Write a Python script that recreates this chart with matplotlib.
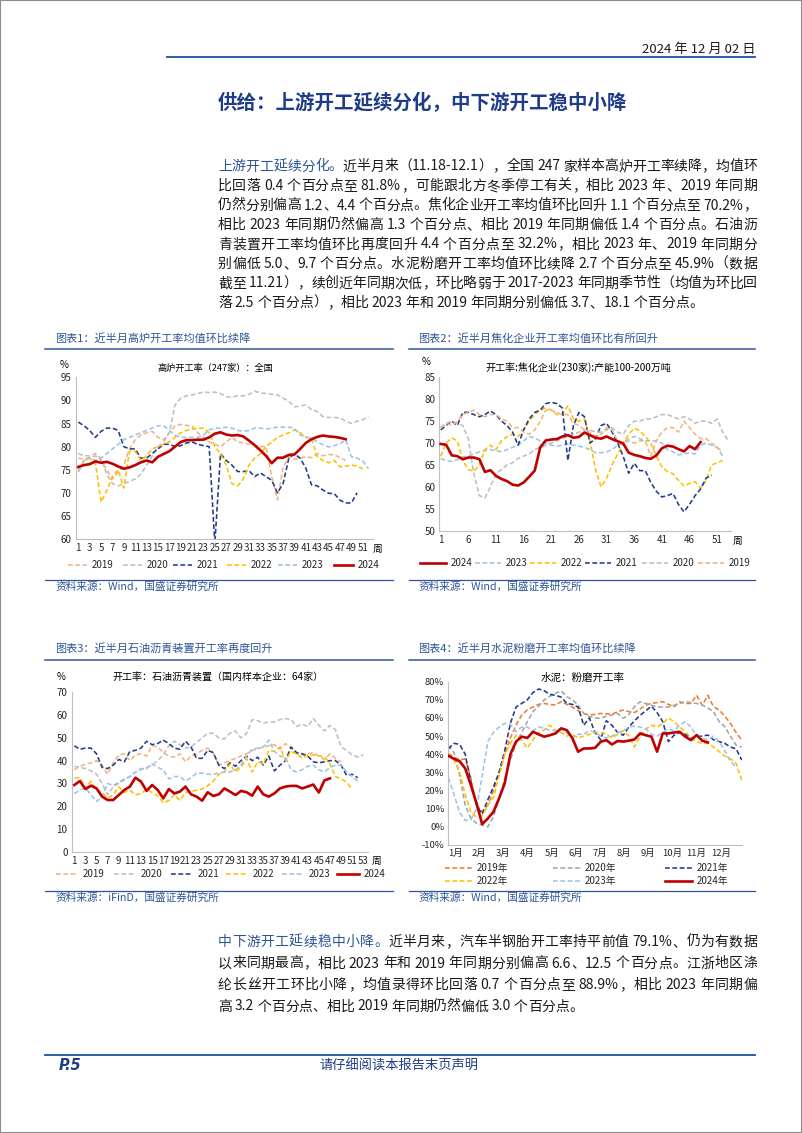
import re
import numpy as np
import matplotlib
matplotlib.use("Agg")
import matplotlib.pyplot as plt
from matplotlib.lines import Line2D
from matplotlib.patches import Rectangle

plt.rcParams['font.family'] = ['Noto Sans CJK SC', 'DejaVu Sans']
plt.rcParams['axes.unicode_minus'] = False

# ====================== 数据 ======================
# 图表1 高炉开工率（周）
bf_2019 = [77.5, 77.3, 77.6, 78.0, 77.0, 75.0, 73.0, 74.5, 76.0, 79.5, 81.5, 82.5, 83.0, 83.3, 82.0, 81.5,
           83.0, 84.5, 84.8, 84.6, 84.5, 83.0, 82.0, 81.0, 80.5, 80.0, 81.0, 82.0, 81.0, 80.8, 80.5, 80.3,
           80.0, 80.0, 73.5, 68.5, 75.5, 77.8, 77.3, 77.5, 77.8, 77.6, 78.4, 78.0, 78.3, 78.2, 77.6, 77.0]
bf_2020 = [78.5, 78.0, 78.0, 78.5, 77.5, 74.0, 72.0, 71.5, 72.0, 72.5, 73.0, 74.0, 76.0, 78.0, 80.0, 81.0,
           83.0, 89.0, 90.5, 91.0, 91.2, 91.5, 91.8, 91.7, 91.8, 91.5, 90.8, 90.7, 91.0, 91.0, 91.3, 92.0,
           91.6, 91.5, 91.3, 91.2, 90.5, 89.8, 88.6, 88.8, 89.0, 88.0, 87.6, 86.5, 86.3, 86.3, 86.2, 85.5,
           85.0, 85.5, 85.8, 86.5]
bf_2021 = [85.3, 84.5, 83.5, 82.0, 83.3, 84.0, 84.0, 83.5, 80.0, 79.5, 79.5, 77.5, 77.5, 78.5, 79.5, 80.5,
           80.5, 80.0, 80.2, 80.8, 81.0, 80.5, 80.2, 80.0, 59.0, 78.5, 77.0, 76.0, 74.6, 74.6, 74.8, 73.5,
           74.3, 73.5, 72.7, 70.0, 72.0, 77.5, 78.4, 77.5, 75.3, 71.7, 71.5, 70.6, 69.9, 69.8, 68.4, 67.8,
           67.8, 70.0]
bf_2022 = [75.0, 77.0, 77.5, 76.5, 68.0, 70.5, 73.5, 75.0, 71.0, 79.0, 79.0, 77.0, 78.0, 79.5, 80.0, 80.5,
           81.0, 82.0, 83.0, 83.5, 83.8, 84.0, 84.0, 83.0, 80.0, 78.5, 76.0, 72.0, 71.5, 73.0, 76.0, 77.5,
           78.5, 80.0, 81.0, 82.0, 82.5, 83.0, 83.6, 83.0, 82.0, 81.8, 77.8, 77.0, 76.5, 77.0, 75.6, 75.8,
           76.0, 75.8, 75.2]
bf_2023 = [74.5, 77.0, 77.5, 77.0, 77.5, 78.5, 79.5, 80.5, 81.5, 82.0, 82.5, 83.0, 83.5, 84.0, 84.5, 84.5,
           83.5, 82.5, 82.0, 82.0, 82.0, 82.0, 82.5, 83.6, 84.0, 84.0, 84.2, 84.0, 83.5, 83.3, 83.5, 84.0,
           84.0, 83.8, 84.0, 84.2, 84.2, 84.2, 84.0, 82.5, 82.1, 81.8, 81.0, 80.4, 79.9, 80.2, 80.6, 81.5,
           77.8, 77.5, 76.9, 75.2]
bf_2024 = [75.6, 76.0, 76.2, 76.8, 76.5, 76.7, 76.3, 75.7, 75.2, 75.5, 76.0, 76.6, 77.0, 76.6, 77.8, 78.4,
           79.0, 80.0, 81.0, 81.4, 81.4, 81.5, 81.5, 82.0, 82.8, 83.1, 82.6, 82.4, 82.5, 82.2, 81.3, 80.3,
           79.2, 78.0, 76.4, 77.6, 77.6, 78.2, 78.3, 79.5, 80.8, 81.6, 82.1, 82.4, 82.2, 82.1, 81.9, 81.6]

# 图表2 焦化企业开工率（周）
ck_2024 = [69.8, 69.6, 67.2, 67.0, 66.3, 66.7, 66.7, 66.3, 63.4, 63.8, 62.5, 61.8, 61.3, 60.5, 60.3, 61.0,
           62.3, 63.7, 69.0, 70.6, 70.8, 70.9, 71.5, 71.8, 71.2, 71.4, 72.4, 71.8, 71.2, 71.0, 71.5, 70.9,
           70.4, 69.9, 67.8, 67.3, 67.0, 66.6, 66.4, 67.2, 68.8, 69.4, 69.2, 68.6, 68.1, 69.3, 68.6, 70.2]
ck_2023 = [66.5, 66.0, 65.8, 66.2, 66.8, 67.0, 67.5, 68.0, 68.3, 68.5, 68.3, 68.0, 68.5, 69.0, 69.5, 70.5,
           71.5, 71.2, 70.5, 70.0, 69.5, 69.3, 69.5, 69.8, 69.5, 69.3, 69.0, 68.5, 67.8, 67.8, 68.0, 68.5,
           69.5, 70.0, 71.0, 71.5, 71.0, 70.5, 70.5, 70.5, 70.0, 68.5, 68.0, 67.3, 67.5, 67.8, 67.5, 69.5,
           70.0, 69.5, 69.0, 67.0]
ck_2022 = [67.0, 70.0, 71.2, 70.5, 66.0, 64.0, 63.5, 65.0, 68.5, 69.5, 68.5, 70.5, 71.5, 72.0, 71.5, 73.0,
           75.0, 76.5, 77.5, 78.0, 77.5, 76.5, 76.5, 78.5, 75.5, 75.0, 75.5, 70.5, 64.0, 60.0, 62.0, 65.0,
           67.5, 70.0, 72.0, 73.4, 72.8, 71.5, 69.9, 67.0, 64.6, 63.5, 63.0, 61.5, 60.2, 60.8, 61.2, 59.7,
           61.5, 65.0, 65.5, 66.0]
ck_2021 = [73.0, 74.0, 75.0, 74.0, 77.0, 77.0, 76.5, 76.0, 76.5, 77.3, 76.5, 75.0, 74.0, 72.5, 69.5, 73.0,
           75.5, 77.0, 77.5, 79.0, 79.3, 79.0, 78.0, 66.0, 74.0, 77.0, 76.0, 70.0, 71.0, 74.0, 74.5, 72.5,
           70.0, 67.0, 63.1, 65.4, 63.7, 63.7, 61.0, 59.0, 57.7, 58.0, 58.5, 56.0, 54.3, 56.0, 58.0, 59.5,
           62.0, 62.7]
ck_2020 = [73.5, 74.5, 75.0, 74.5, 74.0, 71.0, 63.0, 58.0, 57.5, 60.0, 63.0, 64.0, 65.0, 65.5, 66.5, 67.0,
           67.5, 68.5, 69.0, 69.5, 70.0, 70.5, 71.0, 71.5, 72.0, 72.5, 73.0, 73.0, 72.5, 72.5, 73.0, 73.5,
           72.5, 72.0, 74.0, 75.0, 75.0, 75.5, 75.5, 76.0, 76.5, 76.5, 76.0, 75.5, 76.0, 75.5, 74.5, 75.0,
           75.0, 74.5, 75.5, 72.5, 70.5]
ck_2019 = [73.5, 74.5, 74.0, 75.0, 76.5, 77.0, 77.5, 76.5, 76.0, 76.5, 76.5, 75.5, 75.0, 73.5, 73.5, 72.5,
           72.0, 73.0, 75.0, 77.5, 77.5, 77.0, 76.5, 76.5, 74.5, 74.0, 73.0, 72.5, 71.5, 72.0, 73.5, 73.0,
           70.5, 70.0, 70.5, 70.0, 70.5, 70.5, 67.0, 70.5, 72.5, 73.5, 73.5, 72.5, 75.0, 73.5, 72.0, 71.0,
           71.0, 70.0, 69.0, 68.0]

# 图表3 石油沥青装置开工率（周）
as_2019 = [36, 37.5, 38.5, 39, 40, 38, 34, 39, 42.5, 43, 40, 42.5, 43, 42, 46.5, 46, 43.5, 42, 41.5, 43,
           39.5, 42, 43, 44.5, 45.5, 43.5, 38, 39, 40, 41, 42, 43, 44.5, 45, 46, 46.5, 47, 45, 47.5, 45.5,
           43, 42.5, 43, 43.5, 42, 40.5, 43, 41, 39.5]
as_2020 = [37.5, 37, 36.5, 35.5, 34, 30, 25, 28.5, 30, 31.5, 33, 35, 36, 37, 38, 40, 42.5, 46.5, 48.5, 47,
           45.5, 46, 48, 50, 52, 52, 50, 49.5, 52, 53, 50, 52, 58, 57.5, 56.5, 57, 57, 58, 58.5, 58, 55, 56,
           55, 58.5, 55.5, 53, 55.5, 53.5, 46, 44.5, 42.5, 41.5, 42.5]
as_2021 = [46.5, 45, 45.5, 45.5, 43, 37, 36.5, 38, 40.5, 39.5, 44, 44.5, 45.5, 48.5, 47, 47.5, 49, 47.5,
           45.5, 45, 48.5, 46, 41, 41, 44.5, 43.5, 38, 36.5, 39, 37.5, 40, 42, 40, 41.5, 38, 42, 35.5, 38,
           40, 46, 43.5, 43, 42, 39.5, 39, 39.5, 40, 40, 38, 33.5, 34, 32.5]
as_2022 = [32.5, 32.5, 28, 31, 27, 26, 23.5, 25, 28.5, 26, 27, 25, 25.5, 27.5, 26, 24.5, 21.5, 22.5, 25,
           22.5, 26, 26.5, 27, 27.5, 29, 31, 34, 35, 38.5, 35, 37, 41, 35, 39.5, 38.5, 44.5, 44, 46, 40, 44,
           43, 41, 42.5, 42.5, 42, 42, 38.5, 33, 32, 30.5, 27.5]
as_2023 = [25.5, 27, 28, 25, 22, 24, 30, 29, 30.5, 32, 33, 35, 36.5, 36.5, 38.5, 37, 36, 32, 33, 33, 31,
           32.5, 34.5, 34.5, 34, 34, 34.5, 35, 35, 36, 38, 42, 45, 45.5, 46, 49, 44, 42, 41.5, 36, 35, 36,
           37.5, 38, 36, 35, 37, 38, 38, 35, 33, 31]
as_2024 = [29.3, 31.0, 27.5, 29.0, 27.8, 24.2, 22.7, 22.7, 24.9, 27.1, 28.6, 32.5, 30.8, 26.7, 29.3, 27.1,
           23.4, 27.5, 25.6, 26.4, 28.6, 25.2, 24.2, 22.4, 26.1, 24.5, 25.2, 27.8, 26.4, 24.9, 26.7, 26.1,
           24.6, 28.6, 25.2, 24.2, 25.6, 27.8, 28.6, 28.9, 28.9, 27.8, 28.6, 29.5, 26.0, 31.3, 32.2]

# 图表4 水泥粉磨开工率（周，%）
cm_2019 = [40.5, 38.5, 36.8, 37.5, 27, 12, 8.3, 12, 20, 30, 40, 49, 56, 61.6, 64.5, 66, 67.5, 68, 67.5,
           67.1, 69, 67.5, 66, 64, 62.5, 61.6, 62, 62.5, 62.3, 62, 63.5, 64.4, 63.5, 63, 65, 67.1, 68, 68.5,
           69, 67.5, 66.2, 69, 68, 68, 72.5, 67, 72.5, 66.2, 64.4, 61, 57, 52, 47.8]
cm_2020 = [45, 41, 28.5, 12, 4.6, 2, 1, 0, 5.5, 15.7, 26.7, 36.8, 46, 52, 58, 63.5, 66.5, 70, 72, 73.6,
           74.9, 71.7, 70, 67.1, 62.5, 60.7, 60, 59.8, 61, 61.6, 62.5, 59.8, 62, 66.2, 69, 68, 67, 66.2, 66,
           66, 67, 68, 69, 68.5, 68, 67.1, 65.5, 63.5, 58, 55.2, 50, 45, 44]
cm_2021 = [43, 46, 45.5, 40, 25, 12, 7, 15, 22, 30, 42, 57, 66, 68, 70, 74, 76, 75, 73, 72.5, 71.5, 68,
           67.5, 66, 56, 60, 52, 48, 58.5, 56, 52, 50.5, 55, 58.5, 61.5, 64, 66.5, 63, 58, 47, 50.5, 52,
           51, 48.8, 49.7, 50, 50.6, 48, 47, 46, 44, 43, 36.8]
cm_2022 = [40.5, 37, 30, 18, 8, 5.5, 6, 12, 16, 28, 40, 46, 50.5, 47.8, 43.5, 48, 52, 53.5, 56, 53, 52,
           50, 51, 49, 50, 51, 52, 52, 51, 49, 51, 53, 50, 44, 50, 54, 56, 55, 57, 60, 58, 55, 52.5, 49,
           47, 46, 46, 44, 41.5, 39, 37.5, 35, 25.8]
cm_2023 = [27, 18, 8, 3.5, 4, 10, 28, 47, 52, 55, 57, 56.5, 52.5, 55, 55, 53, 55, 54.5, 53, 53, 54, 52,
           49, 51, 51, 53, 52, 50, 49, 50, 52, 53, 55, 55.5, 55, 54, 51, 50, 52, 54, 53, 56, 58, 55, 50.5,
           49, 48, 50, 47, 42, 36, 33]
cm_2024 = [39.2, 37.5, 36.2, 32.2, 23, 12.9, 1.5, 4.6, 8.3, 15.7, 24, 40, 47, 49.7, 49, 52.4, 51, 49.7,
           50.5, 51.5, 54.3, 53.3, 48.8, 41.4, 43.2, 43.2, 43.5, 46.9, 47.8, 45.4, 47.3, 47, 47.5, 48.2,
           51.5, 50.5, 49.7, 41.4, 51.5, 51.5, 52, 52.4, 49.7, 47.8, 50.6, 47.5, 46.5]

months = ["1月", "2月", "3月", "4月", "5月", "6月", "7月", "8月", "9月", "10月", "11月", "12月"]

para1 = [
    "上游开工延续分化。近半月来（11.18-12.1），全国 247 家样本高炉开工率续降，均值环",
    "比回落 0.4 个百分点至 81.8%，可能跟北方冬季停工有关，相比 2023 年、2019 年同期",
    "仍然分别偏高 1.2、4.4 个百分点。焦化企业开工率均值环比回升 1.1 个百分点至 70.2%，",
    "相比 2023 年同期仍然偏高 1.3 个百分点、相比 2019 年同期偏低 1.4 个百分点。石油沥",
    "青装置开工率均值环比再度回升 4.4 个百分点至 32.2%，相比 2023 年、2019 年同期分",
    "别偏低 5.0、9.7 个百分点。水泥粉磨开工率均值环比续降 2.7 个百分点至 45.9%（数据",
    "截至 11.21），续创近年同期次低，环比略弱于 2017-2023 年同期季节性（均值为环比回",
    "落 2.5 个百分点），相比 2023 年和 2019 年同期分别偏低 3.7、18.1 个百分点。",
]
para2 = [
    "中下游开工延续稳中小降。近半月来，汽车半钢胎开工率持平前值 79.1%、仍为有数据",
    "以来同期最高，相比 2023 年和 2019 年同期分别偏高 6.6、12.5 个百分点。江浙地区涤",
    "纶长丝开工环比小降，均值录得环比回落 0.7 个百分点至 88.9%，相比 2023 年同期偏",
    "高 3.2 个百分点、相比 2019 年同期仍然偏低 3.0 个百分点。",
]

# ====================== 样式 ======================
C19, C20, C21, C22, C23, C24 = "#F4B183", "#BFBFBF", "#1F3C88", "#FFC000", "#9DC3E6", "#C00000"
BLUE = "#2E5597"
DARK_BLUE = "#1F3C88"
DASH = (0, (3, 1.6))
PUNCT = "，。、（）：；！？"

W, H = 802, 1133
fig = plt.figure(figsize=(W / 100, H / 100), dpi=100)
renderer = fig.canvas.get_renderer()


def fx(x):
    return x / W


def fy(y):
    return 1 - y / H


def hline(x0, x1, y, color=BLUE, lw=1.1):
    fig.add_artist(Line2D([fx(x0), fx(x1)], [fy(y), fy(y)], transform=fig.transFigure, color=color, lw=lw))


def text_line(y, s, n_blue=0, justify=True, x0=218, x1=757, size=10):
    # 两端对齐：逐字排版，数字串整体处理
    toks = re.findall(r"[0-9A-Za-z.%\-]+|\S", s.replace(" ", ""))
    em = size * 100 / 72
    items, total, count = [], 0, 0
    for i, tok in enumerate(toks):
        col = BLUE if count < n_blue else "#1A1A1A"
        count += len(tok)
        t = fig.text(0, 0, tok, fontsize=size, color=col, va="baseline")
        w = t.get_window_extent(renderer).width
        pl = pr = 0
        if tok[0].isascii():
            if i > 0 and toks[i - 1] not in PUNCT:
                pl = 0.22 * em
            if i < len(toks) - 1 and toks[i + 1] not in PUNCT:
                pr = 0.22 * em
        items.append((t, w, pl, pr))
        total += w + pl + pr
    gap = (x1 - x0 - total) / (len(items) - 1) if justify else 0
    x = x0
    for t, w, pl, pr in items:
        t.set_position((fx(x + pl), fy(y + 0.36 * em)))
        x += w + pl + pr + gap


def make_ax(left, top, right, bottom):
    ax = fig.add_axes([fx(left), fy(bottom), (right - left) / W, (bottom - top) / H])
    for s in ["top", "right"]:
        ax.spines[s].set_visible(False)
    for s in ["left", "bottom"]:
        ax.spines[s].set_color("#BFBFBF")
        ax.spines[s].set_linewidth(0.8)
    ax.tick_params(length=0, labelsize=7, colors="#262626", pad=3)
    ax.patch.set_alpha(0)
    return ax


def plot_year(ax, vals, color, solid=False):
    x = np.arange(1, len(vals) + 1)
    if solid:
        ax.plot(x, vals, color=color, lw=1.9, zorder=5)
    else:
        ax.plot(x, vals, color=color, lw=1.15, ls=DASH)


def legend_item(x, y, length, color, label, solid=False, size=7):
    kw = dict(color=color, lw=1.9) if solid else dict(color=color, lw=1.15, ls=DASH)
    fig.add_artist(Line2D([fx(x), fx(x + length)], [fy(y), fy(y)], transform=fig.transFigure, **kw))
    fig.text(fx(x + length + 5), fy(y), label, fontsize=size, va="center", color="#262626")


# ====================== 页面框架 ======================
fig.add_artist(Rectangle((0, 0), 1, 1, transform=fig.transFigure, fill=False, ec="#8C8C8C", lw=1.5))
fig.text(fx(756), fy(49), "2024 年 12 月 02 日", fontsize=9.5, ha="right", va="center", color="#1A1A1A")
hline(167, 755, 57, color="#1F4E99", lw=1.3)
fig.text(fx(218), fy(103), "供给：上游开工延续分化，中下游开工稳中小降", fontsize=14,
         fontweight="bold", color=DARK_BLUE, va="center")

for i, s in enumerate(para1):
    text_line(165.5 + i * 19.5, s, n_blue=9 if i == 0 else 0, justify=(i < len(para1) - 1))
for i, s in enumerate(para2):
    text_line(941 + i * 21.5, s, n_blue=12 if i == 0 else 0, justify=(i < len(para2) - 1))

hline(45, 755, 1055, color="#1F4E99", lw=1.3)
fig.text(fx(59), fy(1066), "P.5", fontsize=10.5, fontweight="bold", style="italic",
         family="DejaVu Sans", color=DARK_BLUE, va="center")
fig.text(fx(399), fy(1066), "请仔细阅读本报告末页声明", fontsize=9.5, color=DARK_BLUE,
         ha="center", va="center")

# 图表标题与来源
for x_t, x0, x1, y_t, title in [
    (55, 45, 393, 338, "图表1：近半月高炉开工率均值环比续降"),
    (418, 409, 755, 338, "图表2：近半月焦化企业开工率均值环比有所回升"),
    (55, 45, 393, 648, "图表3：近半月石油沥青装置开工率再度回升"),
    (418, 409, 755, 648, "图表4：近半月水泥粉磨开工率均值环比续降"),
]:
    fig.text(fx(x_t), fy(y_t), title, fontsize=8, color=BLUE, va="center")
    hline(x0, x1, y_t + 11.5)

for x_t, x0, x1, y_t, src in [
    (55, 45, 393, 587, "资料来源：Wind，国盛证券研究所"),
    (418, 409, 755, 587, "资料来源：Wind，国盛证券研究所"),
    (55, 45, 393, 898, "资料来源：iFinD，国盛证券研究所"),
    (418, 409, 755, 898, "资料来源：Wind，国盛证券研究所"),
]:
    hline(x0, x1, y_t - 7.5, lw=0.9)
    fig.text(fx(x_t), fy(y_t), src, fontsize=7.7, color=BLUE, va="center")

# ====================== 图表1 ======================
ax1 = make_ax(75.7, 377.3, 373, 539)
for vals, c in [(bf_2019, C19), (bf_2020, C20), (bf_2021, C21), (bf_2022, C22), (bf_2023, C23)]:
    plot_year(ax1, vals, c)
plot_year(ax1, bf_2024, C24, solid=True)
ax1.set_ylim(60, 95)
ax1.set_xlim(0.54, 52.8)
ax1.set_yticks(range(60, 96, 5))
ax1.set_xticks(range(1, 52, 2))
fig.text(fx(64), fy(365), "%", fontsize=7, ha="center", va="center")
fig.text(fx(215), fy(368), "高炉开工率（247家）：全国", fontsize=6.6, ha="center", va="center")
fig.text(fx(378), fy(549), "周", fontsize=7, ha="center", va="center")
for x, c, lab, sol in [(68, C19, "2019", False), (123, C20, "2020", False), (173, C21, "2021", False),
                       (227, C22, "2022", False), (278, C23, "2023", False), (334, C24, "2024", True)]:
    legend_item(x, 565, 19, c, lab, sol)

# ====================== 图表2 ======================
ax2 = make_ax(439.3, 377.3, 731, 530.7)
for vals, c in [(ck_2023, C23), (ck_2022, C22), (ck_2021, C21), (ck_2020, C20), (ck_2019, C19)]:
    plot_year(ax2, vals, c)
plot_year(ax2, ck_2024, C24, solid=True)
ax2.set_ylim(50, 85)
ax2.set_xlim(0.75, 53.5)
ax2.set_yticks(range(50, 86, 5))
ax2.set_xticks(range(1, 52, 5))
fig.text(fx(426), fy(362), "%", fontsize=7, ha="center", va="center")
fig.text(fx(578), fy(368), "开工率:焦化企业(230家):产能100-200万吨", fontsize=7.2, ha="center", va="center")
fig.text(fx(738), fy(541), "周", fontsize=7, ha="center", va="center")
for x, c, lab, sol in [(420, C24, "2024", True), (475, C23, "2023", False), (530, C22, "2022", False),
                       (585, C21, "2021", False), (642, C20, "2020", False), (698, C19, "2019", False)]:
    legend_item(x, 563, 26, c, lab, sol)

# ====================== 图表3 ======================
ax3 = make_ax(71.7, 692.3, 368.3, 851.7)
for vals, c in [(as_2019, C19), (as_2020, C20), (as_2021, C21), (as_2022, C22), (as_2023, C23)]:
    plot_year(ax3, vals, c)
plot_year(ax3, as_2024, C24, solid=True)
ax3.set_ylim(0, 70)
ax3.set_xlim(0.53, 53.9)
ax3.set_yticks(range(0, 71, 10))
ax3.set_xticks(range(1, 54, 2))
fig.text(fx(61), fy(677), "%", fontsize=7, ha="center", va="center")
fig.text(fx(218), fy(677), "开工率：石油沥青装置（国内样本企业：64家）", fontsize=7.2, ha="center", va="center")
fig.text(fx(377), fy(861), "周", fontsize=7, ha="center", va="center")
for x, c, lab, sol in [(56, C19, "2019", False), (114, C20, "2020", False), (171, C21, "2021", False),
                       (226, C22, "2022", False), (282, C23, "2023", False), (337, C24, "2024", True)]:
    legend_item(x, 874, 22, c, lab, sol)

# ====================== 图表4 ======================
C19b, C20b = "#ED7D31", "#A5A5A5"
ax4 = make_ax(448.3, 681.7, 742.3, 845)
for vals, c in [(cm_2019, C19b), (cm_2020, C20b), (cm_2021, C21), (cm_2022, C22), (cm_2023, C23)]:
    plot_year(ax4, vals, c)
plot_year(ax4, cm_2024, C24, solid=True)
ax4.set_ylim(-10, 80)
ax4.set_xlim(1, 53.1)
ax4.set_yticks(range(-10, 81, 10))
ax4.set_yticklabels([f"{v}%" for v in range(-10, 81, 10)])
ax4.set_xticks([2.2 + i * 4.28 for i in range(12)])
ax4.set_xticklabels(months)
ax4.tick_params(labelsize=6.8)
fig.text(fx(583), fy(678), "水泥：粉磨开工率", fontsize=7.6, ha="center", va="center")
for x, y, c, lab, sol in [(445, 868, C19b, "2019年", False), (553, 868, C20b, "2020年", False),
                          (665, 868, C21, "2021年", False), (445, 881, C22, "2022年", False),
                          (553, 881, C23, "2023年", False), (665, 881, C24, "2024年", True)]:
    legend_item(x, y, 27, c, lab, sol)

fig.savefig("out.png", dpi=100)
